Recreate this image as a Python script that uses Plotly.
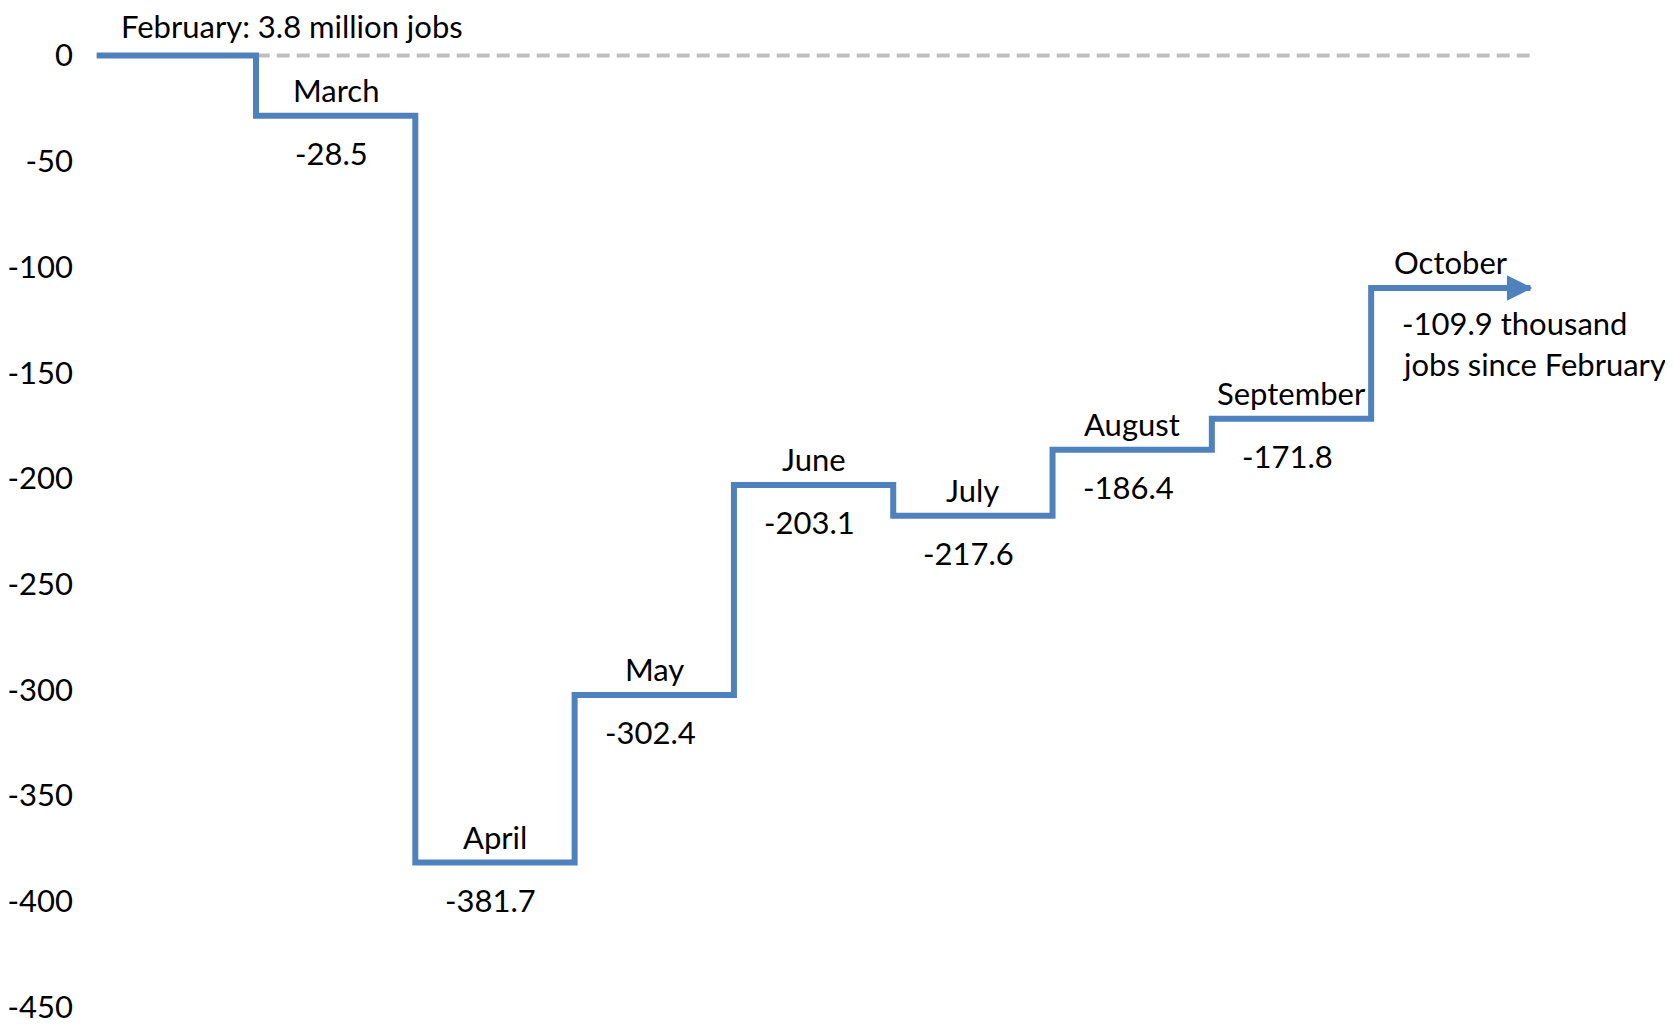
import plotly.graph_objects as go

months = ["February", "March", "April", "May", "June", "July", "August", "September", "October"]
values = [0, -28.5, -381.7, -302.4, -203.1, -217.6, -186.4, -171.8, -109.9]
y_ticks = [0, -50, -100, -150, -200, -250, -300, -350, -400, -450]
start_label = "February: 3.8 million jobs"
end_note = ["-109.9 thousand", "jobs since February"]

BLUE = "#4F81BD"
FONT = dict(family="Lato, 'Open Sans', sans-serif", size=31, color="#000000")

xs = list(range(len(values) + 1))
ys = values + [values[-1]]

fig = go.Figure()

fig.add_shape(type="line", xref="x", yref="y", x0=xs[0], x1=xs[-1], y0=0, y1=0,
              line=dict(color="#BFBFBF", width=4, dash="13px,7px"), layer="below")

fig.add_trace(go.Scatter(x=xs, y=ys, mode="lines", line=dict(color=BLUE, width=6, shape="hv"),
                         hoverinfo="skip", showlegend=False))

# arrow head at end
fig.add_annotation(x=xs[-1], y=values[-1], ax=xs[-1] - 0.3, ay=values[-1], axref="x", ayref="y",
                   text="", showarrow=True, arrowhead=2, arrowsize=0.85, arrowwidth=6,
                   arrowcolor=BLUE, xshift=2, standoff=0)

fig.add_annotation(x=0, y=0, text=start_label, showarrow=False, xanchor="left", yanchor="middle",
                   xshift=22, yshift=30, font=FONT)

for k in range(1, len(months)):
    fig.add_annotation(x=k + 0.5, y=values[k], text=months[k], showarrow=False,
                       xanchor="center", yanchor="middle", yshift=26, font=FONT)
    if k < len(months) - 1:
        fig.add_annotation(x=k + 0.5, y=values[k], text=f"{values[k]:.1f}", showarrow=False,
                           xanchor="center", yanchor="middle", yshift=-37, xshift=-4, font=FONT)

for i, line in enumerate(end_note):
    fig.add_annotation(x=len(months) - 1, y=values[-1], text=line, showarrow=False,
                       xanchor="left", yanchor="middle", xshift=29, yshift=-35 - 41 * i, font=FONT)

fig.update_layout(
    template="none",
    width=1673, height=1024,
    margin=dict(l=66, r=0, t=37, b=25, autoexpand=False),
    plot_bgcolor="white", paper_bgcolor="white",
    font=FONT,
    xaxis=dict(range=[-0.1425, 9.945], visible=False, showgrid=False, zeroline=False, automargin=False),
    yaxis=dict(range=[-450, 5], tickvals=y_ticks, ticktext=[str(v) for v in y_ticks],
               showgrid=False, zeroline=False, showline=False, ticks="", tickfont=FONT,
               automargin=False),
)

fig.write_html("out.html")
